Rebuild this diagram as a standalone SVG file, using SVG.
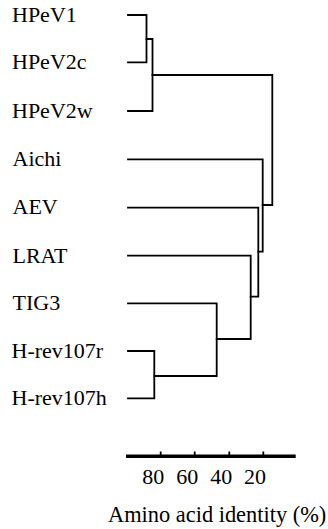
<svg xmlns="http://www.w3.org/2000/svg" width="328" height="529" viewBox="0 0 328 529">
  <style>
    .lbl { font-family: "Liberation Serif", "Times New Roman", serif; font-size: 22px; fill: #000; }
    .tree { fill: none; stroke: #000; stroke-width: 1.8; stroke-linecap: square; stroke-linejoin: miter; }
    .axis { stroke: #000; stroke-width: 3.4; }
    .tick { stroke: #000; stroke-width: 1.8; }
  </style>
  <rect width="328" height="529" fill="#fff"/>

  <!-- taxon labels -->
  <g id="node-hpev1"><text class="lbl" x="12" y="22">HPeV1</text></g>
  <g id="node-hpev2c"><text class="lbl" x="12" y="69">HPeV2c</text></g>
  <g id="node-hpev2w"><text class="lbl" x="12" y="118">HPeV2w</text></g>
  <g id="node-aichi"><text class="lbl" x="12.5" y="166">Aichi</text></g>
  <g id="node-aev"><text class="lbl" x="12.5" y="214">AEV</text></g>
  <g id="node-lrat"><text class="lbl" x="12.5" y="263">LRAT</text></g>
  <g id="node-tig3"><text class="lbl" x="12.5" y="310">TIG3</text></g>
  <g id="node-hrev107r"><text class="lbl" x="11.5" y="358">H-rev107r</text></g>
  <g id="node-hrev107h"><text class="lbl" x="11.5" y="405">H-rev107h</text></g>

  <!-- dendrogram branches -->
  <g id="connectors" class="tree">
    <path d="M128 15 H146.5 V62.3 H128"/>
    <path d="M146.5 39 H152.5 V111 H128"/>
    <path d="M152.5 75 H272.3 V205 H262.7"/>
    <path d="M128 159.3 H262.7 V251.7 H258.3"/>
    <path d="M128 207.7 H258.3 V296.7 H250.7"/>
    <path d="M128 255.7 H250.7 V339 H216.7"/>
    <path d="M128 303.3 H216.7 V376 H154.3"/>
    <path d="M128 351 H154.3 V398.3 H128"/>
  </g>

  <!-- scale bar -->
  <g id="scale">
    <line class="axis" x1="126" y1="456.2" x2="295.7" y2="456.2"/>
    <line class="tick" x1="160.7" y1="451.5" x2="160.7" y2="456"/>
    <line class="tick" x1="194.7" y1="451.5" x2="194.7" y2="456"/>
    <line class="tick" x1="229.3" y1="451.5" x2="229.3" y2="456"/>
    <line class="tick" x1="263.3" y1="451.5" x2="263.3" y2="456"/>
    <text class="lbl" x="153.3" y="484" text-anchor="middle">80</text>
    <text class="lbl" x="187.2" y="484" text-anchor="middle">60</text>
    <text class="lbl" x="221.2" y="484" text-anchor="middle">40</text>
    <text class="lbl" x="255" y="484" text-anchor="middle">20</text>
    <text class="lbl" x="108" y="522" style="font-size:22.4px">Amino acid identity (%)</text>
  </g>
</svg>
